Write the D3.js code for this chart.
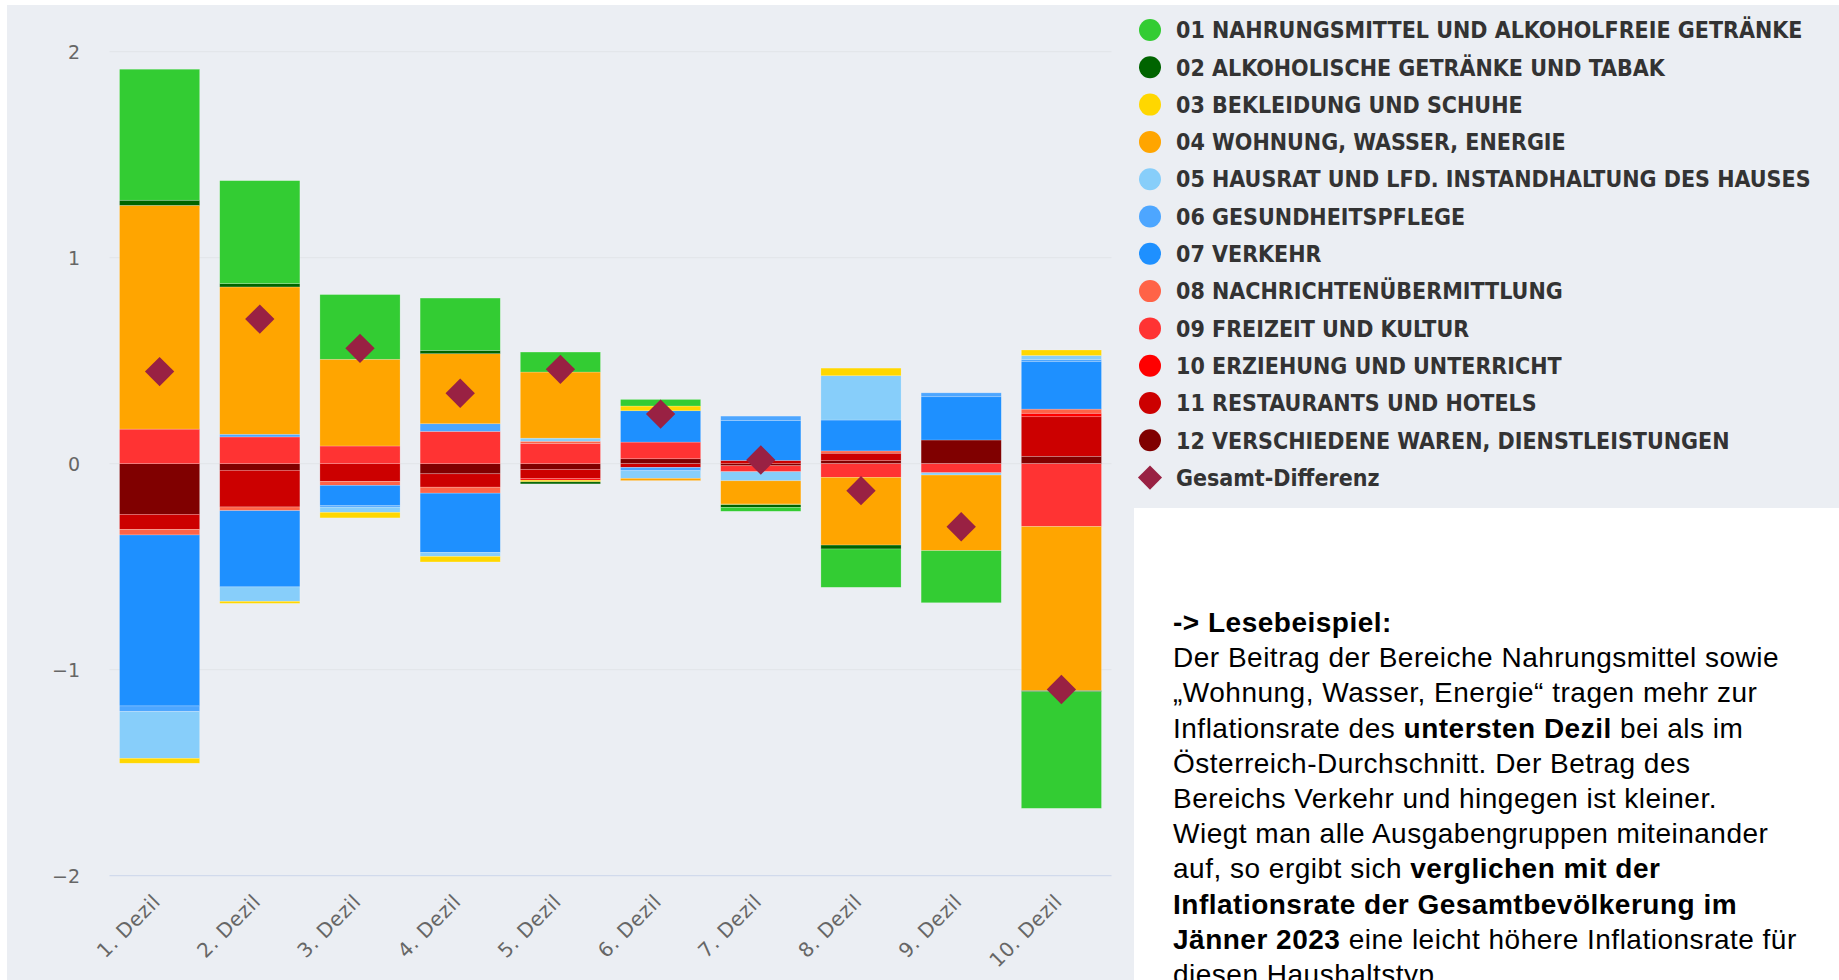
<!DOCTYPE html>
<html>
<head>
<meta charset="utf-8">
<title>Inflationsbeitrag nach Dezilen</title>
<script src="https://cdn.jsdelivr.net/npm/d3@7"></script>
<style>
    html, body { margin: 0; padding: 0; background: #ffffff; }
    svg { display: block; }
</style>
</head>
<body>
<div class="content"></div>
<script>
// categories
var deciles = ['1. Dezil', '2. Dezil', '3. Dezil', '4. Dezil', '5. Dezil',
    '6. Dezil', '7. Dezil', '8. Dezil', '9. Dezil', '10. Dezil'];

var seriesNames = [
    '01 NAHRUNGSMITTEL UND ALKOHOLFREIE GETRÄNKE',
    '02 ALKOHOLISCHE GETRÄNKE UND TABAK',
    '03 BEKLEIDUNG UND SCHUHE',
    '04 WOHNUNG, WASSER, ENERGIE',
    '05 HAUSRAT UND LFD. INSTANDHALTUNG DES HAUSES',
    '06 GESUNDHEITSPFLEGE',
    '07 VERKEHR',
    '08 NACHRICHTENÜBERMITTLUNG',
    '09 FREIZEIT UND KULTUR',
    '10 ERZIEHUNG UND UNTERRICHT',
    '11 RESTAURANTS UND HOTELS',
    '12 VERSCHIEDENE WAREN, DIENSTLEISTUNGEN'
];
var totalName = 'Gesamt-Differenz';

var seriesColors = ['#33cc33', '#006400', '#ffd700', '#ffa500', '#87cefa', '#4da6ff',
    '#1e90ff', '#ff6347', '#ff3333', '#ff0000', '#cc0000', '#800000'];
var totalColor = '#992143';

// contribution per decile (percentage points)
var nahrung      = [0.636, 0.500, 0.314, 0.254, 0.097, 0.032, -0.019, -0.186, -0.253, -0.566];
var alkohol      = [0.025, 0.016, 0.000, 0.016, -0.010, 0.000, -0.013, -0.019, 0.000, -0.005];
var bekleidung   = [-0.024, -0.010, -0.027, -0.027, -0.008, 0.023, -0.003, 0.037, 0.000, 0.027];
var wohnung      = [1.086, 0.715, 0.421, 0.340, 0.321, -0.011, -0.113, -0.329, -0.367, -0.797];
var hausrat      = [-0.227, -0.070, -0.025, -0.019, 0.015, -0.037, -0.044, 0.215, -0.011, 0.020];
var gesundheit   = [-0.027, 0.013, -0.007, 0.037, 0.000, -0.016, 0.021, 0.000, 0.019, 0.010];
var verkehr      = [-0.830, -0.370, -0.099, -0.288, 0.000, 0.152, 0.194, 0.150, 0.210, 0.230];
var nachrichten  = [-0.027, -0.018, -0.019, -0.029, 0.010, 0.000, 0.000, 0.011, 0.000, 0.020];
var freizeit     = [0.168, 0.130, 0.086, 0.157, 0.099, 0.081, -0.029, -0.066, -0.044, -0.305];
var erziehung    = [0.000, 0.000, 0.000, 0.000, -0.008, 0.000, 0.000, 0.000, 0.000, 0.017];
var restaurants  = [-0.073, -0.178, -0.086, -0.065, -0.044, -0.018, 0.016, 0.036, 0.000, 0.192];
var verschiedene = [-0.246, -0.032, 0.000, -0.049, -0.028, 0.024, -0.010, 0.015, 0.115, 0.036];
var gesamtDifferenz = [0.447, 0.702, 0.560, 0.342, 0.458, 0.241, 0.018, -0.131, -0.306, -1.096];

var yTicks = [-2, -1, 0, 1, 2];

// note box, one entry per line: [text, bold]
var noteLines = [
    [['-> Lesebeispiel:', true]],
    [['Der Beitrag der Bereiche Nahrungsmittel sowie', false]],
    [['\u201EWohnung, Wasser, Energie\u201C tragen mehr zur', false]],
    [['Inflationsrate des ', false], ['untersten Dezil', true], [' bei als im', false]],
    [['Österreich-Durchschnitt. Der Betrag des', false]],
    [['Bereichs Verkehr und hingegen ist kleiner.', false]],
    [['Wiegt man alle Ausgabengruppen miteinander', false]],
    [['auf, so ergibt sich ', false], ['verglichen mit der', true]],
    [['Inflationsrate der Gesamtbevölkerung im', true]],
    [['Jänner 2023', true], [' eine leicht höhere Inflationsrate für', false]],
    [['diesen Haushaltstyp.', false]]
];

(function (window) {
    'use strict';
    var width = 1839, height = 980,
        plot = {left: 109.5, right: 1111.5, top: 51.7, bottom: 875.7},
        legend = {x: 1150, y: 30, step: 37.3, textX: 1176},
        seriesValues = [nahrung, alkohol, bekleidung, wohnung, hausrat, gesundheit,
            verkehr, nachrichten, freizeit, erziehung, restaurants, verschiedene],
        svg, x, y;

    function createBoard() {
        var board = d3.select('.content').append('svg')
            .attr('width', width)
            .attr('height', height);
        board.append('rect')
            .attr('width', width).attr('height', height)
            .attr('fill', '#ffffff');
        board.append('rect')
            .attr('x', 7).attr('y', 5)
            .attr('width', width - 7).attr('height', height - 5)
            .attr('fill', '#ebeef3');
        return board;
    }

    function buildRows() {
        return deciles.map(function (d, i) {
            var row = {decile: d};
            seriesValues.forEach(function (vals, k) {
                row[k] = vals[i];
            });
            return row;
        });
    }

    function drawAxes() {
        var grid = svg.append('g').attr('class', 'grid');
        grid.selectAll('line')
            .data(yTicks.filter(function (t) { return t !== yTicks[0]; }))
            .enter().append('line')
            .attr('x1', plot.left).attr('x2', plot.right)
            .attr('y1', function (d) { return y(d); })
            .attr('y2', function (d) { return y(d); })
            .attr('stroke', '#e2e4e8')
            .attr('stroke-width', 1);

        // bottom axis line sits on the lowest tick
        svg.append('line')
            .attr('x1', plot.left).attr('x2', plot.right)
            .attr('y1', y(yTicks[0])).attr('y2', y(yTicks[0]))
            .attr('stroke', '#ccd6eb')
            .attr('stroke-width', 1);

        svg.append('g').selectAll('text')
            .data(yTicks)
            .enter().append('text')
            .attr('x', 80)
            .attr('y', function (d) { return y(d); })
            .attr('dy', '0.36em')
            .attr('text-anchor', 'end')
            .attr('font-family', 'DejaVu Sans, Verdana, sans-serif')
            .attr('font-size', 19)
            .attr('fill', '#666666')
            .text(function (d) { return d < 0 ? '\u2212' + Math.abs(d) : d; });

        svg.append('g').selectAll('text')
            .data(deciles)
            .enter().append('text')
            .attr('transform', function (d) {
                return 'translate(' + [x(d) + x.bandwidth() / 2 + 2, y(yTicks[0]) + 27] + ') rotate(-45)';
            })
            .attr('text-anchor', 'end')
            .attr('font-family', 'DejaVu Sans, Verdana, sans-serif')
            .attr('font-size', 20)
            .attr('letter-spacing', 0.6)
            .attr('fill', '#666666')
            .text(function (d) { return d; });
    }

    function drawBars(rows) {
        var stack = d3.stack()
                .keys(d3.range(seriesValues.length).reverse())
                .value(function (d, k) { return d[k]; })
                .offset(d3.stackOffsetDiverging),
            layers = stack(rows);

        svg.append('g').attr('class', 'bars')
            .selectAll('g')
            .data(layers)
            .enter().append('g')
            .attr('fill', function (l) { return seriesColors[l.key]; })
            .selectAll('rect')
            .data(function (l) { return l; })
            .enter().append('rect')
            .attr('x', function (d) { return x(d.data.decile); })
            .attr('width', x.bandwidth())
            .attr('y', function (d) { return y(Math.max(d[0], d[1])); })
            .attr('height', function (d) { return Math.abs(y(d[0]) - y(d[1])); })
            .attr('stroke', '#ffffff')
            .attr('stroke-opacity', 0.35)
            .attr('stroke-width', 0.6);
    }

    function drawTotals() {
        var diamond = d3.symbol().type(d3.symbolSquare).size(430);
        svg.append('g').attr('class', 'totals')
            .selectAll('path')
            .data(gesamtDifferenz)
            .enter().append('path')
            .attr('d', diamond)
            .attr('transform', function (d, i) {
                return 'translate(' + [x(deciles[i]) + x.bandwidth() / 2, y(d)] + ') rotate(45)';
            })
            .attr('fill', totalColor);
    }

    function drawLegend() {
        var items = seriesNames.concat([totalName]),
            g = svg.append('g').attr('class', 'legend'),
            item = g.selectAll('g')
                .data(items)
                .enter().append('g')
                .attr('transform', function (d, i) {
                    return 'translate(0,' + (legend.y + i * legend.step) + ')';
                });

        item.filter(function (d, i) { return i < seriesNames.length; })
            .append('circle')
            .attr('cx', legend.x)
            .attr('r', 11)
            .attr('fill', function (d, i) { return seriesColors[i]; });

        item.filter(function (d, i) { return i === seriesNames.length; })
            .append('path')
            .attr('d', d3.symbol().type(d3.symbolSquare).size(290))
            .attr('transform', 'translate(' + legend.x + ',0) rotate(45)')
            .attr('fill', totalColor);

        item.append('text')
            .attr('x', legend.textX)
            .attr('dy', '0.36em')
            .attr('font-family', 'DejaVu Sans Condensed, DejaVu Sans, sans-serif')
            .attr('font-stretch', 'condensed')
            .attr('font-weight', 'bold')
            .attr('font-size', 23)
            .attr('fill', '#333333')
            .text(function (d) { return d; });
    }

    function drawNote() {
        var text;
        svg.append('rect')
            .attr('x', 1134).attr('y', 508)
            .attr('width', width - 1134).attr('height', height - 508)
            .attr('fill', '#ffffff');

        text = svg.append('text')
            .attr('font-family', 'Liberation Sans, Arial, sans-serif')
            .attr('font-size', 28)
            .attr('letter-spacing', 0.5)
            .attr('fill', '#000000')
            .style('white-space', 'pre');

        noteLines.forEach(function (line, i) {
            var tl = text.append('tspan')
                .attr('x', 1173)
                .attr('y', 632 + i * 35.2);
            line.forEach(function (part) {
                tl.append('tspan')
                    .attr('font-weight', part[1] ? 'bold' : 'normal')
                    .text(part[0]);
            });
        });
    }

    svg = createBoard();
    x = d3.scaleBand()
        .domain(deciles)
        .range([plot.left, plot.right])
        .paddingInner(0.2)
        .paddingOuter(0.1);
    y = d3.scaleLinear()
        .domain([yTicks[0], yTicks[yTicks.length - 1]])
        .range([plot.bottom, plot.top]);

    drawAxes();
    drawBars(buildRows());
    drawTotals();
    drawLegend();
    drawNote();
}(window));
</script>
</body>
</html>
